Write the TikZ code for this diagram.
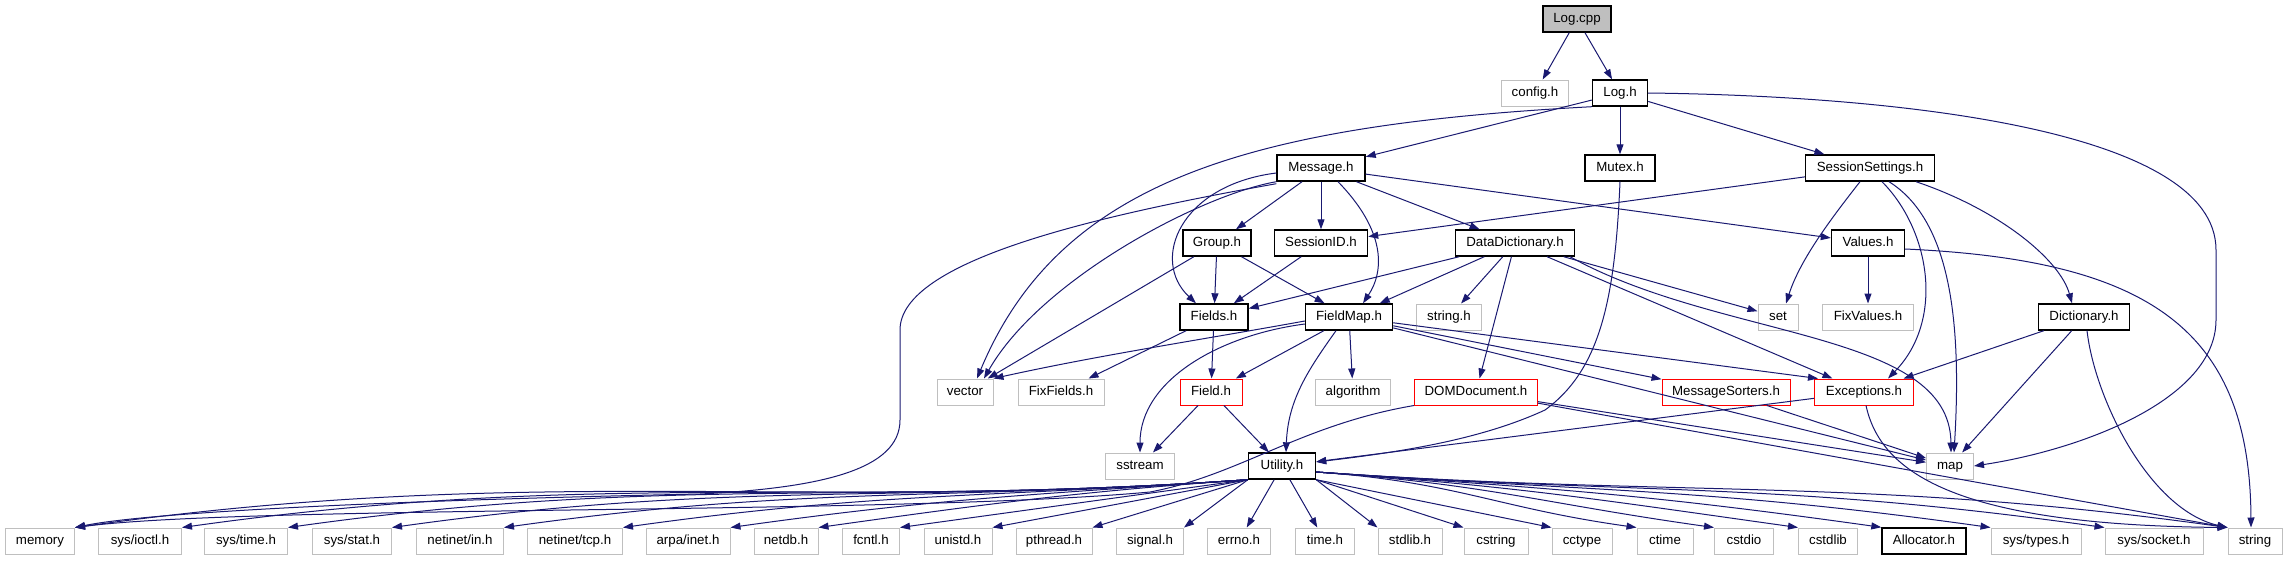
\documentclass[tikz,border=0pt]{standalone}
\usepackage{fontspec}
\newfontfamily\incfont{Liberation Sans}
\usetikzlibrary{arrows.meta}
\definecolor{incedge}{HTML}{191970}
\definecolor{incgray}{HTML}{BFBFBF}
\tikzset{
 inc box/.style={draw=incgray,line width=1pt,fill=white,minimum height=26pt,
                 inner sep=0pt,text height=9.6pt,text depth=2.8pt,
                 font=\incfont\fontsize{13.3}{16}\selectfont},
 inc doc/.style={inc box,draw=black,line width=1.4pt},
 inc red/.style={inc box,draw=red},
 inc root/.style={inc doc,fill=incgray},
 inc dep/.style={draw=incedge,line width=1pt,-{Triangle[length=10pt,width=7pt]}}
}
\begin{document}
\begin{tikzpicture}[x=1pt,y=-1pt]
 \useasboundingbox (0,0) rectangle (2287,560);
 \node[inc root,minimum width=68pt] (logcpp) at (1577,19) {Log.cpp};
 \node[inc box,minimum width=67pt] (config) at (1535,93) {config.h};
 \node[inc doc,minimum width=55pt] (logh) at (1620,93) {Log.h};
 \node[inc doc,minimum width=88pt] (message) at (1321,168) {Message.h};
 \node[inc doc,minimum width=70pt] (mutex) at (1620,168) {Mutex.h};
 \node[inc doc,minimum width=129pt] (sesset) at (1870,168) {SessionSettings.h};
 \node[inc doc,minimum width=68pt] (group) at (1217,243) {Group.h};
 \node[inc doc,minimum width=93pt] (sessid) at (1321,243) {SessionID.h};
 \node[inc doc,minimum width=119pt] (datadict) at (1515,243) {DataDictionary.h};
 \node[inc doc,minimum width=73pt] (values) at (1868,243) {Values.h};
 \node[inc doc,minimum width=68pt] (fields) at (1214,317) {Fields.h};
 \node[inc doc,minimum width=87pt] (fieldmap) at (1349,317) {FieldMap.h};
 \node[inc box,minimum width=65pt] (stringh) at (1449,317) {string.h};
 \node[inc box,minimum width=40pt] (set) at (1778,317) {set};
 \node[inc box,minimum width=91pt] (fixvalues) at (1868,317) {FixValues.h};
 \node[inc doc,minimum width=91pt] (dictionary) at (2084,317) {Dictionary.h};
 \node[inc box,minimum width=56pt] (vector) at (965,392) {vector};
 \node[inc box,minimum width=86pt] (fixfields) at (1061,392) {FixFields.h};
 \node[inc red,minimum width=62pt] (field) at (1211,392) {Field.h};
 \node[inc box,minimum width=75pt] (algorithm) at (1353,392) {algorithm};
 \node[inc red,minimum width=123pt] (domdoc) at (1476,392) {DOMDocument.h};
 \node[inc red,minimum width=128pt] (msgsort) at (1726,392) {MessageSorters.h};
 \node[inc red,minimum width=99pt] (exceptions) at (1864,392) {Exceptions.h};
 \node[inc box,minimum width=69pt] (sstream) at (1140,466) {sstream};
 \node[inc doc,minimum width=67pt] (utility) at (1282,466) {Utility.h};
 \node[inc box,minimum width=47pt] (map) at (1950,466) {map};
 \foreach \n/\x/\w/\t in {memory/40/69/memory,sysioctl/140/83/{sys/ioctl.h},
   systime/246/83/{sys/time.h},sysstat/352/79/{sys/stat.h},netin/460/87/{netinet/in.h},
   nettcp/575/95/{netinet/tcp.h},arpainet/688/84/{arpa/inet.h},netdb/786/64/netdb.h,
   fcntl/871/57/fcntl.h,unistd/958/68/unistd.h,pthread/1054/76/pthread.h,
   signal/1150/67/signal.h,errno/1239/63/errno.h,timeh/1325/59/time.h,
   stdlib/1410/64/stdlib.h,cstring/1496/64/cstring,cctype/1582/60/cctype,
   ctime/1665/56/ctime,cstdio/1744/59/cstdio,cstdlib/1828/59/cstdlib,
   systypes/2036/90/{sys/types.h},syssocket/2154/98/{sys/socket.h},string/2255/54/string}
   \node[inc box,minimum width=\w pt] (\n) at (\x,541) {\t};
 \node[inc doc,minimum width=84pt] (allocator) at (1924,541) {Allocator.h};

 \draw[inc dep] (logcpp) -- (config);
 \draw[inc dep] (logcpp) -- (logh);
 \draw[inc dep] (logh) -- (message);
 \draw[inc dep] (logh) -- (mutex);
 \draw[inc dep] (logh) -- (sesset);
 \draw[inc dep] (logh.south west) .. controls (1250,125) and (1060,180) .. ([xshift=12pt]vector.north);
 \draw[inc dep] (logh.east) .. controls (1900,96) and (2216,130) .. (2216,250) -- (2216,320)
   .. controls (2216,400) and (2080,450) .. (map.east);
 \draw[inc dep] (message) -- (group);
 \draw[inc dep] (message) -- (sessid);
 \draw[inc dep] (message) -- (datadict);
 \draw[inc dep] (message) -- (values);
 \draw[inc dep] ([yshift=-5pt]message.west) .. controls (1180,185) and (1150,260) .. ([xshift=-18pt]fields.north);
 \draw[inc dep] ([xshift=17pt]message.south) .. controls (1385,230) and (1385,270) .. ([xshift=14pt]fieldmap.north);
 \draw[inc dep] (message.south west) .. controls (1200,195) and (1040,280) .. ([xshift=19pt]vector.north);
 \draw[inc dep] ([yshift=-2pt]message.south west) .. controls (1100,215) and (900,260) .. (900,330)
   -- (900,420) .. controls (900,470) and (820,488) .. (700,494)
   .. controls (400,500) and (150,512) .. (memory.north east);
 \draw[inc dep] (sesset) -- (sessid);
 \draw[inc dep] ([xshift=-10pt]sesset.south) .. controls (1830,220) and (1800,260) .. ([xshift=8pt]set.north);
 \draw[inc dep] ([xshift=12pt]sesset.south) .. controls (1930,230) and (1945,320) .. ([xshift=24pt]exceptions.north);
 \draw[inc dep] ([xshift=19pt]sesset.south) .. controls (1950,220) and (1962,320) .. ([xshift=4pt]map.north);
 \draw[inc dep] ([xshift=46pt]sesset.south) .. controls (2000,210) and (2060,260) .. ([xshift=-12pt]dictionary.north);
 \draw[inc dep] (mutex.south) .. controls (1615,300) and (1600,370) .. (1545,410)
   .. controls (1480,440) and (1400,452) .. ([yshift=4pt]utility.east);
 \draw[inc dep] (values) -- (fixvalues);
 \draw[inc dep] ([yshift=-6pt]values.east) .. controls (2150,260) and (2250,330) .. ([xshift=-4pt]string.north);
 \draw[inc dep] (datadict) -- (fields);
 \draw[inc dep] (datadict) -- (fieldmap);
 \draw[inc dep] (datadict) -- (stringh);
 \draw[inc dep] (datadict) -- (domdoc);
 \draw[inc dep] (datadict) -- (exceptions);
 \draw[inc dep] (datadict) -- (set);
 \draw[inc dep] ([xshift=55pt]datadict.south) .. controls (1720,340) and (1950,330) .. ([xshift=1pt]map.north);
 \draw[inc dep] (group) -- (vector);
 \draw[inc dep] (group) -- (fields);
 \draw[inc dep] (group) -- (fieldmap);
 \draw[inc dep] (sessid) -- (fields);
 \draw[inc dep] (fields) -- (field);
 \draw[inc dep] (fields) -- (fixfields);
 \draw[inc dep] ([yshift=-4pt]fieldmap.west) .. controls (1200,340) and (1100,355) .. (vector.north east);
 \draw[inc dep] (fieldmap) -- (field);
 \draw[inc dep] ([yshift=-7pt]fieldmap.west) .. controls (1220,335) and (1140,380) .. (sstream.north);
 \draw[inc dep] ([xshift=-13pt]fieldmap.south) .. controls (1308,370) and (1288,400) .. ([xshift=4pt]utility.north);
 \draw[inc dep] (fieldmap) -- (algorithm);
 \draw[inc dep] (fieldmap) -- (msgsort);
 \draw[inc dep] (fieldmap) -- ([xshift=4pt]exceptions.north west);
 \draw[inc dep] (fieldmap) -- (map);
 \draw[inc dep] (domdoc.south west) .. controls (1300,425) and (1240,475) .. (1150,492)
   .. controls (900,515) and (250,505) .. (memory.north east);
 \draw[inc dep] (domdoc) -- (map);
 \draw[inc dep] (domdoc) -- (string.north west);
 \draw[inc dep] (msgsort) -- (map);
 \draw[inc dep] (exceptions) -- (utility);
 \draw[inc dep] ([xshift=2pt]exceptions.south) .. controls (1880,470) and (1950,525) .. (string.north west);
 \draw[inc dep] (dictionary) -- (exceptions);
 \draw[inc dep] (dictionary) -- (map);
 \draw[inc dep] ([xshift=3pt]dictionary.south) .. controls (2095,400) and (2150,510) .. (string.north west);
 \draw[inc dep] (field) -- (sstream);
 \draw[inc dep] (field) -- (utility);
 \foreach \n/\c in {memory/460,sysioctl/420,systime/380,sysstat/340,netin/300,
   nettcp/255,arpainet/210,netdb/170}
   \draw[inc dep] (utility.south west) .. controls +({-\c},{0.07*\c}) and +({\c},{-0.14*\c}) .. (\n.north east);
 \foreach \n in {fcntl,unistd,pthread,signal}
   \draw[inc dep] (utility.south west) -- (\n.north east);
 \draw[inc dep] (utility) -- (errno);
 \draw[inc dep] (utility) -- (timeh);
 \foreach \n in {stdlib,cstring,cctype}
   \draw[inc dep] (utility.south east) -- (\n.north west);
 \foreach \n/\c in {ctime/140,cstdio/170,cstdlib/200,allocator/240,systypes/280,
   syssocket/330,string/360}
   \draw[inc dep] ([yshift=-6pt]utility.east) .. controls +({\c},{0.07*\c}) and +({-\c},{-0.14*\c}) .. (\n.north west);
\end{tikzpicture}
\end{document}
